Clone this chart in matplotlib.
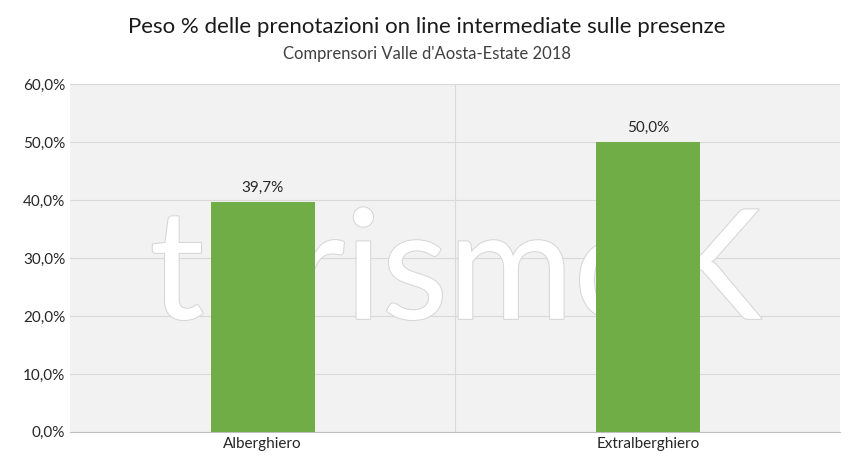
import matplotlib.pyplot as plt
import matplotlib.patheffects as pe
from matplotlib.ticker import FuncFormatter

plt.rcParams['font.family'] = ['Lato', 'DejaVu Sans']

categories = ['Alberghiero', 'Extralberghiero']
values = [39.7, 50.0]

fig = plt.figure(figsize=(8.54, 4.72), dpi=100)
ax = fig.add_axes([0.082, 0.085, 0.902, 0.737])
ax.set_facecolor('#f2f2f2')

x = range(len(categories))
bars = ax.bar(x, values, width=0.27, color='#70ad47', zorder=3)
for xi, v in zip(x, values):
    ax.text(xi, v + 1.2, f'{v:.1f}%'.replace('.', ','), ha='center', va='bottom',
            fontsize=11, color='#262626', zorder=4)

ax.set_xlim(-0.5, 1.5)
ax.set_ylim(0, 60)
ax.set_yticks(range(0, 61, 10))
ax.yaxis.set_major_formatter(FuncFormatter(lambda v, p: f'{v:.1f}%'.replace('.', ',')))
ax.set_xticks(list(x))
ax.set_xticklabels(categories)
ax.grid(axis='y', color='#d9d9d9', linewidth=0.8, zorder=0)
ax.axvline(0.5, color='#d9d9d9', linewidth=0.8, zorder=0)
ax.tick_params(length=0, labelsize=11, colors='#262626')
for s in ['top', 'right', 'left']:
    ax.spines[s].set_visible(False)
ax.spines['bottom'].set_color('#bfbfbf')

# watermark, behind the bars
t = ax.text(0.5, 0.45, 'turismoK', transform=ax.transAxes, ha='center', va='center',
            fontsize=110, color='white', zorder=2)
t.set_path_effects([pe.withStroke(linewidth=1.5, foreground='#d6d6d6')])

fig.text(0.5, 0.93, 'Peso % delle prenotazioni on line intermediate sulle presenze',
         ha='center', fontsize=16, color='#1a1a1a')
fig.text(0.5, 0.875, "Comprensori Valle d'Aosta-Estate 2018",
         ha='center', fontsize=12, color='#404040')

fig.savefig('out.png', dpi=100)
